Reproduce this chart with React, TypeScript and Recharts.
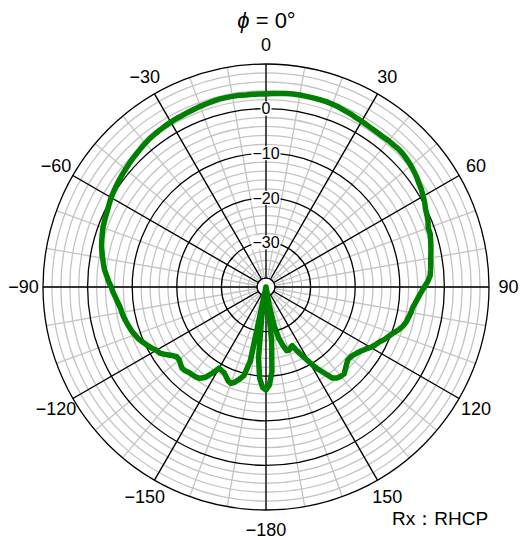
import React from 'react';
import { RadarChart, PolarGrid, PolarAngleAxis, PolarRadiusAxis, Radar } from 'recharts';

// phi = 0 deg cut, Rx RHCP, gain in dB, sampled every 2 deg clockwise from the top
const angles = Array.from({ length: 180 }, (_, i) => (i * 2 >= 180 ? i * 2 - 360 : i * 2));

// theta = 0 .. 180
const gainRight = [
  3.3, 3.4, 3.5, 3.6, 3.7, 3.7, 3.7, 3.7, 3.7, 3.7,
  3.6, 3.5, 3.3, 3.2, 3.0, 2.9, 2.8, 2.7, 2.7, 2.7,
  2.8, 2.8, 2.9, 2.8, 2.6, 2.4, 2.1, 1.8, 1.4, 1.1,
  0.7, 0.3, -0.2, -0.5, -0.8, -1.3, -1.3, -1.6, -1.9, -2.2,
  -2.5, -2.7, -2.9, -3.1, -3.7, -4.5, -5.2, -5.8, -6.3, -6.8,
  -7.0, -7.3, -7.6, -8.1, -8.8, -9.7, -10.4, -11.0, -11.8, -12.3,
  -12.9, -13.7, -14.3, -14.8, -15.2, -15.4, -15.4, -14.9, -14.4, -13.8,
  -13.9, -14.1, -14.8, -16.8, -18.5, -20.5, -22.4, -24.0, -25.6, -25.3,
  -24.9, -25.0, -26.5, -28.2, -31.0, -36.0, -40.0, -28.0, -21.0, -18.0,
  -16.9,
];

// theta = -178 .. -2
const gainLeft = [
  -17.5, -19.5, -24.0, -33.0, -40.0, -23.0, -19.5, -18.5, -17.6, -17.0,
  -17.3, -18.0, -18.6, -18.8, -19.0, -17.2, -15.5, -14.7, -14.4, -14.3,
  -14.2, -13.9, -13.8, -14.2, -14.6, -14.6, -13.9, -12.9, -12.0, -11.6,
  -10.9, -10.3, -9.7, -9.1, -8.7, -8.3, -8.0, -7.7, -7.4, -7.2,
  -7.0, -6.6, -6.2, -5.7, -5.3, -4.7, -4.2, -3.6, -3.2, -2.8,
  -2.4, -2.0, -1.7, -1.4, -1.1, -0.9, -0.7, -0.5, -0.2, 0.1,
  0.3, 0.5, 0.7, 0.9, 1.1, 1.3, 1.5, 1.7, 1.9, 2.1,
  2.3, 2.4, 2.5, 2.6, 2.7, 2.8, 2.8, 2.9, 3.0, 3.1,
  3.2, 3.3, 3.4, 3.4, 3.4, 3.4, 3.3, 3.3, 3.3,
];

const angleLabels = [0, 30, 60, 90, 120, 150, -180, -150, -120, -90, -60, -30];
const radiusLabels = [-30, -20, -10, 0];
const majorDb = [-38, -30, -20, -10, 0, 10];
const minorDb = [-36, -34, -32, -28, -26, -24, -22, -18, -16, -14, -12, -8, -6, -4, -2, 2, 4, 6, 8];

const gain = [...gainRight, ...gainLeft];
const data = angles.map((angle, i) => ({ angle, gain: gain[i] }));

const W = 513;
const H = 532;
const CX = 258;
const CY = 279;
const R = 223;
const MIN_DB = -40;
const MAX_DB = 10;

const toPx = (db: number) => ((db - MIN_DB) / (MAX_DB - MIN_DB)) * R;
const minorAngles = Array.from({ length: 36 }, (_, i) => 90 - i * 10);
const majorAngles = Array.from({ length: 12 }, (_, i) => 90 - i * 30);

const FONT = '"Liberation Sans", Arial, sans-serif';
const fmt = (v: number) => (v < 0 ? '\u2212' + Math.abs(v) : String(v));

const AngleTick = (props: any) => {
  const { x, y, payload } = props;
  if (!angleLabels.includes(payload.value)) return null;
  const a = (payload.coordinate * Math.PI) / 180;
  return (
    <text
      x={x + 11.5 * Math.cos(a)}
      y={y - 11.5 * Math.sin(a)}
      dy="0.36em"
      textAnchor="middle"
      fontSize={18}
      fontFamily={FONT}
      fill="#000"
    >
      {fmt(payload.value)}
    </text>
  );
};

const RadiusTick = (props: any) => {
  const { x, y, payload } = props;
  if (!radiusLabels.includes(payload.value)) return null;
  const label = fmt(payload.value);
  const w = label.length * 9 + 2;
  return (
    <g>
      <rect x={x - w / 2} y={y - 7} width={w} height={14} fill="#fff" />
      <text x={x} y={y} dy="0.36em" textAnchor="middle" fontSize={16} fontFamily={FONT} fill="#000">
        {label}
      </text>
    </g>
  );
};

export default function App() {
  return (
    <div style={{ position: 'relative', width: 521, height: 540, fontFamily: FONT }}>
      <style>{'body { margin: 0; }'}</style>
      <div
        style={{
          position: 'absolute',
          left: 0,
          width: 533,
          top: 10,
          textAlign: 'center',
          fontSize: 22,
          lineHeight: '22px',
        }}
      >
        <i>ϕ</i> = 0°
      </div>
      <div style={{ position: 'absolute', left: 8, top: 8 }}>
        <RadarChart width={W} height={H} data={data} cx={CX} cy={CY} outerRadius={R} startAngle={90} endAngle={-270}>
          <PolarGrid
            gridType="circle"
            polarAngles={minorAngles}
            polarRadius={minorDb.map(toPx)}
            stroke="#c4c4c4"
            strokeWidth={1.3}
          />
          <PolarGrid
            gridType="circle"
            polarAngles={majorAngles}
            polarRadius={majorDb.map(toPx)}
            stroke="#000"
            strokeWidth={1.3}
          />
          <circle cx={CX} cy={CY} r={toPx(-38)} fill="#fff" stroke="#000" strokeWidth={1.3} />
          <PolarAngleAxis dataKey="angle" tick={AngleTick} tickLine={false} axisLine={false} />
          <PolarRadiusAxis
            angle={90}
            type="number"
            domain={[MIN_DB, MAX_DB]}
            tickCount={6}
            axisLine={false}
            tick={RadiusTick}
          />
          <Radar
            dataKey="gain"
            stroke="#008000"
            strokeWidth={5.5}
            strokeLinejoin="round"
            fill="none"
            fillOpacity={0}
            dot={false}
            isAnimationActive={false}
          />
        </RadarChart>
      </div>
      <div
        style={{
          position: 'absolute',
          left: 392,
          top: 509,
          fontSize: 19,
          lineHeight: '19px',
          whiteSpace: 'nowrap',
        }}
      >
        Rx：RHCP
      </div>
    </div>
  );
}
